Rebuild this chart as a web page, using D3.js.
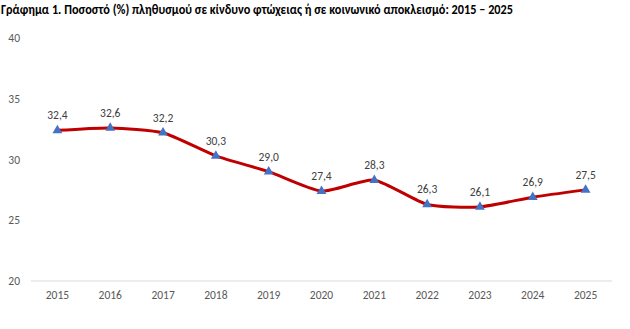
<!DOCTYPE html>
<html>
<head>
<meta charset="utf-8">
<script src="https://cdn.jsdelivr.net/npm/d3@7"></script>
<style>
  html, body { margin: 0; padding: 0; background: #fff; }
  svg { display: block; }
</style>
</head>
<body>
<svg id="chart" width="630" height="329"></svg>
<script>
const years = ["2015","2016","2017","2018","2019","2020","2021","2022","2023","2024","2025"];
const rates = [32.4, 32.6, 32.2, 30.3, 29.0, 27.4, 28.3, 26.3, 26.1, 26.9, 27.5];
const yTicks = [20, 25, 30, 35, 40];
const titleText = "Γράφημα 1. Ποσοστό (%) πληθυσμού σε κίνδυνο φτώχειας ή σε κοινωνικό αποκλεισμό: 2015 – 2025";

const svg = d3.select("#chart");
const font = "Calibri, Carlito, Lato, 'Open Sans', 'Liberation Sans', sans-serif";

const plot = { left: 31, right: 612, top: 38, bottom: 281 };

const x = d3.scaleBand().domain(years).range([plot.left, plot.right]);
const y = d3.scaleLinear().domain([20, 40]).range([plot.bottom, plot.top]);

// Title
svg.append("text")
  .attr("x", 1).attr("y", 14)
  .attr("font-family", font)
  .attr("font-weight", "bold")
  .attr("font-size", 13.5)
  .attr("fill", "#000")
  .attr("textLength", 512)
  .attr("lengthAdjust", "spacingAndGlyphs")
  .text(titleText);

// Y axis labels
const yAxis = d3.axisLeft(y).tickValues(yTicks).tickSize(0).tickPadding(0);
const gy = svg.append("g").attr("transform", `translate(20,0)`).call(yAxis);
gy.select(".domain").remove();
gy.selectAll("text")
  .attr("font-family", font).attr("font-size", 11.5).attr("fill", "#595959");

// Baseline
svg.append("line")
  .attr("x1", plot.left).attr("x2", plot.right)
  .attr("y1", y(20)).attr("y2", y(20))
  .attr("stroke", "#d9d9d9").attr("stroke-width", 1);

// X axis labels
const xAxis = d3.axisBottom(x).tickSize(0).tickPadding(10);
const gx = svg.append("g").attr("transform", `translate(0,${plot.bottom})`).call(xAxis);
gx.select(".domain").remove();
gx.selectAll("text")
  .attr("font-family", font).attr("font-size", 11.5).attr("fill", "#595959");

const cx = d => x(d) + x.bandwidth() / 2;
const pts = years.map((yr, i) => ({ yr, v: rates[i] }));

// Smoothed line
const line = d3.line()
  .x(d => cx(d.yr)).y(d => y(d.v))
  .curve(d3.curveCardinal.tension(0.4));
svg.append("path")
  .datum(pts)
  .attr("d", line)
  .attr("fill", "none")
  .attr("stroke", "#C00000")
  .attr("stroke-width", 3)
  .attr("stroke-linejoin", "round");

// Triangle markers
const tri = d3.symbol().type(d3.symbolTriangle).size(42);
svg.selectAll(".mk").data(pts).join("path")
  .attr("class", "mk")
  .attr("transform", d => `translate(${cx(d.yr)},${y(d.v)})`)
  .attr("d", tri)
  .attr("fill", "#4472C4");

// Value labels
svg.selectAll(".lbl").data(pts).join("text")
  .attr("class", "lbl")
  .attr("x", d => cx(d.yr))
  .attr("y", d => y(d.v) - 11)
  .attr("text-anchor", "middle")
  .attr("font-family", font)
  .attr("font-size", 11.5)
  .attr("fill", "#404040")
  .text(d => d.v.toFixed(1).replace(".", ","));
</script>
</body>
</html>
